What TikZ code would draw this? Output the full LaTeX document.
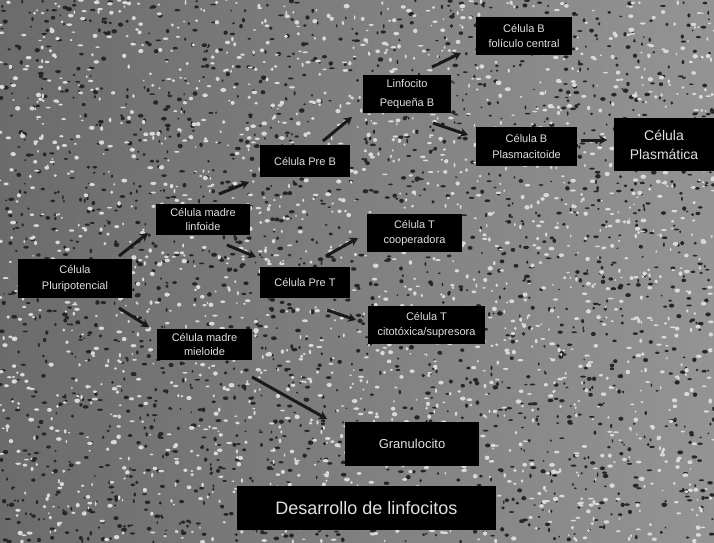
\documentclass[tikz,border=0pt]{standalone}
\usepackage{fontspec}
\setmainfont{Liberation Sans}
\usetikzlibrary{arrows.meta}
\begin{document}
\begin{tikzpicture}[x=1pt,y=-1pt,
  box/.style={fill=black, text=white!88!black, align=center, inner sep=0pt,
    font=\fontsize{11}{15.5}\selectfont},
  arr/.style={line width=3pt, black!90, -{Stealth[length=8pt,width=9pt]}}]
\useasboundingbox (0,0) rectangle (714,542);
\shade[left color=black!58, right color=black!42] (0,0) rectangle (714,542);
\pgfmathsetseed{12345}
\foreach \i in {1,...,2100}{
  \pgfmathsetmacro{\px}{rnd*714}
  \pgfmathsetmacro{\py}{rnd*542}
  \pgfmathsetmacro{\ra}{0.8+rnd*2.2}
  \pgfmathsetmacro{\rb}{0.8+rnd*1.5}
  \fill[black!85] (\px,\py) ellipse [x radius=\ra, y radius=\rb];
}
\foreach \i in {1,...,2100}{
  \pgfmathsetmacro{\px}{rnd*714}
  \pgfmathsetmacro{\py}{rnd*542}
  \pgfmathsetmacro{\ra}{0.8+rnd*2.2}
  \pgfmathsetmacro{\rb}{0.8+rnd*1.5}
  \fill[white!85!black] (\px,\py) ellipse [x radius=\ra, y radius=\rb];
}
% boxes
\node[box, minimum width=96, minimum height=38] (bfol) at (524,36) {Célula B\\folículo central};
\node[box, minimum width=88, minimum height=38, font=\fontsize{11}{19}\selectfont] (linf) at (407,94) {Linfocito\\Pequeña B};
\node[box, minimum width=101, minimum height=39] (bplas) at (526.5,146.5) {Célula B\\Plasmacitoide};
\node[box, minimum width=100, minimum height=53, font=\fontsize{14}{19}\selectfont] (plasm) at (664,144.5) {Célula\\Plasmática};
\node[box, minimum width=90, minimum height=32] (preb) at (305,161) {Célula Pre B};
\node[box, minimum width=94, minimum height=31, font=\fontsize{11}{14}\selectfont] (mlinf) at (203,219.5) {Célula madre\\linfoide};
\node[box, minimum width=95, minimum height=38] (tcoop) at (414.5,233) {Célula T\\cooperadora};
\node[box, minimum width=114, minimum height=39] (plur) at (75,278.5) {Célula\\Pluripotencial};
\node[box, minimum width=90, minimum height=31] (pret) at (305,282.5) {Célula Pre T};
\node[box, minimum width=117, minimum height=38] (tcit) at (426.5,325) {Célula T\\citotóxica/supresora};
\node[box, minimum width=95, minimum height=31, font=\fontsize{11}{14}\selectfont] (mmiel) at (204.5,344.5) {Célula madre\\mieloide};
\node[box, minimum width=134, minimum height=44, font=\fontsize{13}{16}\selectfont] (gran) at (412,444) {Granulocito};
\node[box, minimum width=259, minimum height=44, font=\fontsize{18}{22}\selectfont] (title) at (366.5,508) {Desarrollo de linfocitos};
% arrow ends
\coordinate (a1s) at (119,256); \coordinate (a1e) at (148,233);
\coordinate (a2s) at (119,308); \coordinate (a2e) at (149,327);
\coordinate (a3s) at (219,194); \coordinate (a3e) at (249,182);
\coordinate (a4s) at (227,245); \coordinate (a4e) at (256,257);
\coordinate (a5s) at (323,141); \coordinate (a5e) at (352,117);
\coordinate (a6s) at (432,67);  \coordinate (a6e) at (461,53);
\coordinate (a7s) at (433,123); \coordinate (a7e) at (468,135);
\coordinate (a8s) at (581,140); \coordinate (a8e) at (607,140);
\coordinate (a9s) at (326,256); \coordinate (a9e) at (358,238);
\coordinate (a10s) at (327,310); \coordinate (a10e) at (356,320);
\coordinate (a11s) at (252,377); \coordinate (a11e) at (327,419);
\foreach \k in {1,...,11}{ \draw[arr] (a\k s) -- (a\k e); }
\end{tikzpicture}
\end{document}
